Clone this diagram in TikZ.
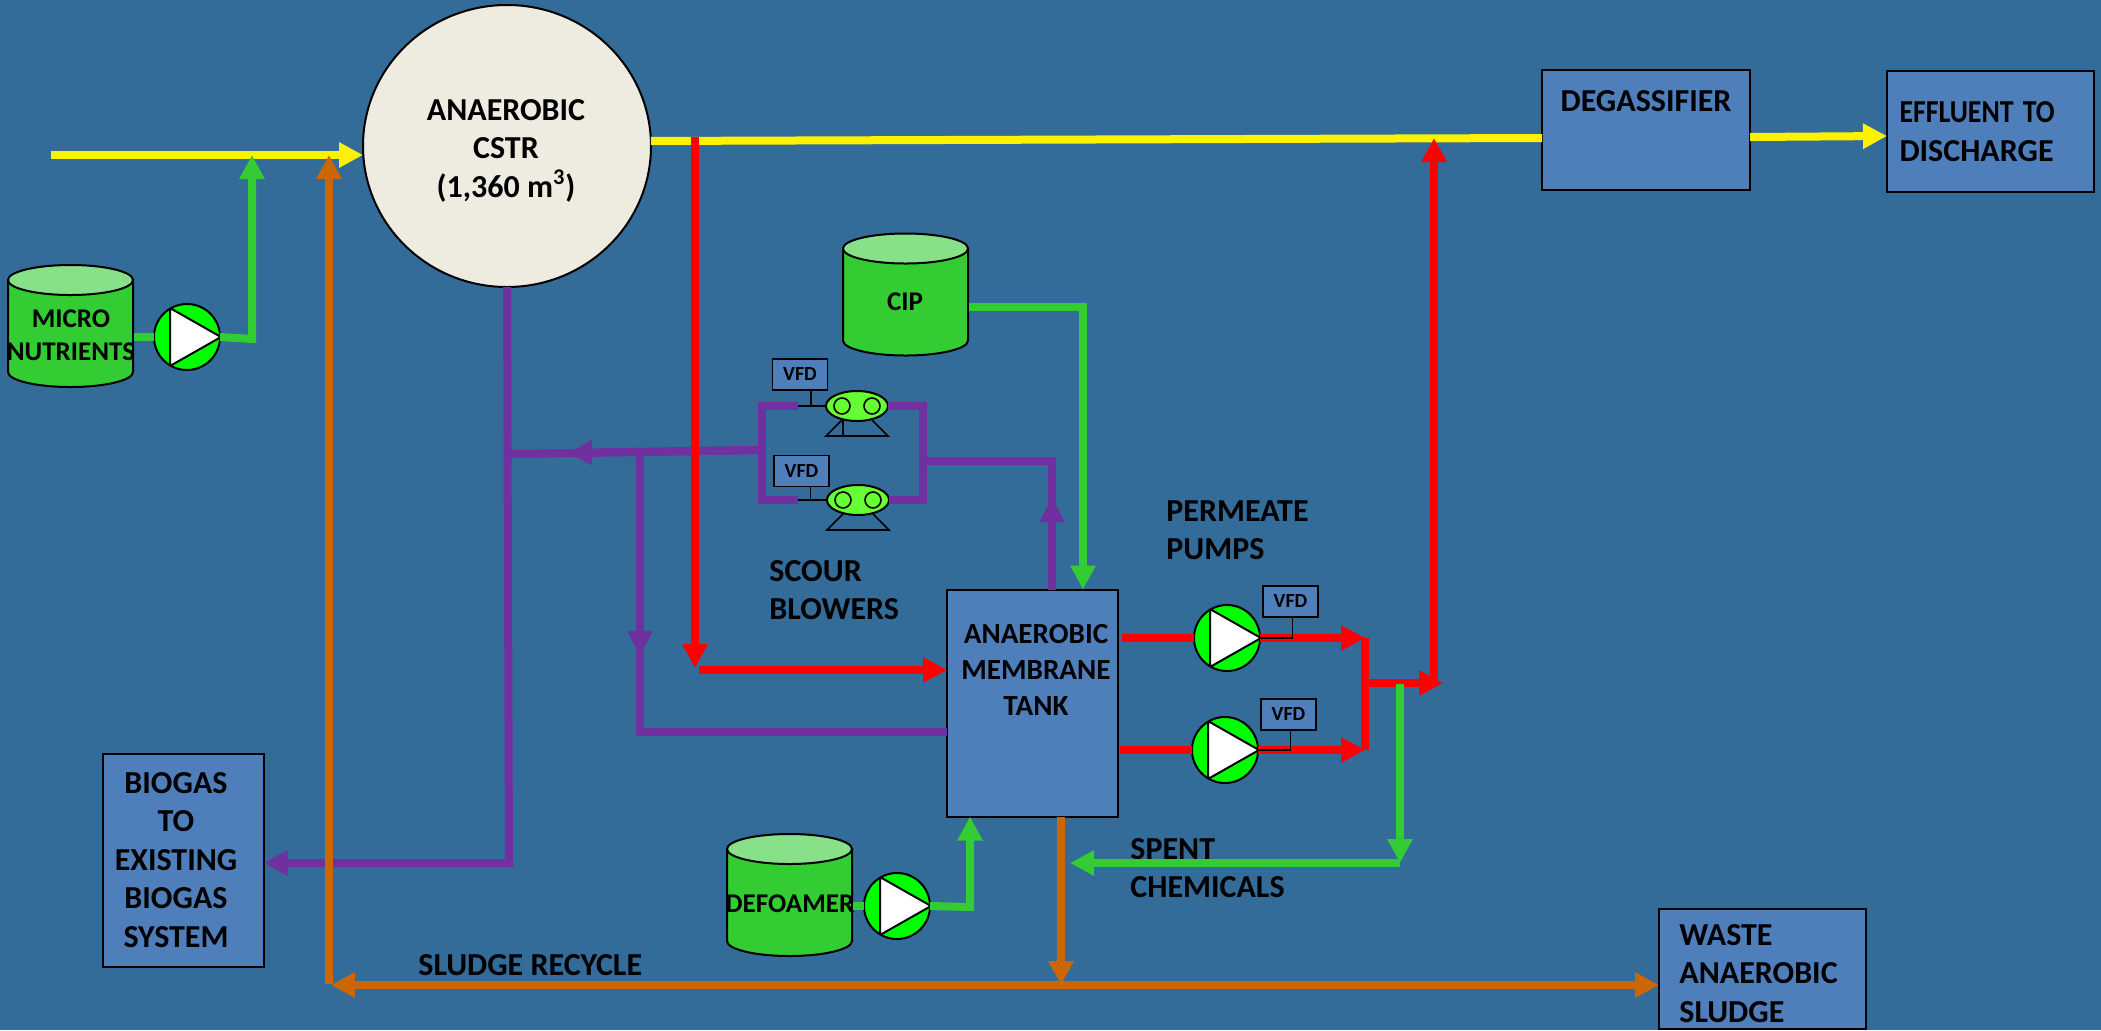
\documentclass[tikz,border=0pt]{standalone}
\usepackage{fontspec}
\usepackage{graphicx}
\setmainfont{Carlito}
\usetikzlibrary{arrows.meta,calc,positioning,shapes.geometric}
\definecolor{seablue}{HTML}{336B99}
\definecolor{boxblue}{HTML}{4F7FBB}
\definecolor{cream}{HTML}{EEECE1}
\definecolor{tankgreen}{HTML}{33CC33}
\definecolor{tanktop}{HTML}{88E088}
\definecolor{pumpgreen}{HTML}{00FF00}
\definecolor{blowgreen}{HTML}{66FF33}
\definecolor{gaspurple}{HTML}{7030A0}
\definecolor{sludge}{HTML}{CC6600}

\begin{document}
\begin{tikzpicture}[x=.5pt, y=-.5pt, >={Triangle[length=12pt,width=12pt]},
 labelfont/.style = {font=\bfseries\fontsize{16}{19.25}\selectfont},
 smallfont/.style = {font=\bfseries\fontsize{13.5}{16.3}\selectfont},
 block/.style = {draw, rectangle, fill=boxblue, line width=1pt, inner sep=0pt, outer sep=0pt, align=center, labelfont},
 vfd/.style = {draw, rectangle, fill=boxblue, line width=.8pt, minimum width=27.5pt, minimum height=15.5pt, inner sep=0pt, font=\bfseries\fontsize{10}{12}\selectfont},
 tank/.style = {rectangle, minimum width=63.5pt, minimum height=62pt, inner sep=0pt, outer sep=0pt,
   path picture={\draw[fill=tankgreen, line width=1pt] (path picture bounding box.center) ++(-62.5,-46) -- ++(0,92) arc (180:0:62.5 and 15) -- ++(0,-92) -- cycle;
     \draw[fill=tanktop, line width=1pt] (path picture bounding box.center) ++(0,-46) ellipse (62.5 and 15);}},
 txt/.style = {inner sep=0pt, align=center, labelfont},
 ltxt/.style = {inner sep=0pt, align=left, anchor=west, labelfont},
 pump/.style = {draw, circle, fill=pumpgreen, line width=1pt, minimum size=33pt, inner sep=0pt, outer sep=0pt,
   path picture={\draw[fill=white, line width=1pt] (path picture bounding box.center) ++(-17,-29) -- ++(0,58) -- ++(51,-29) -- cycle;}},
 blower/.style = {draw, ellipse, fill=blowgreen, line width=1pt, minimum width=31pt, minimum height=15pt, inner sep=0pt, outer sep=0pt,
   path picture={\draw[line width=.8pt] (path picture bounding box.center) ++(-15,0) circle (8) ++(30,0) circle (8);}},
 pipe/.style = {line width=4pt},
 wire/.style = {draw=black, line width=.8pt},
]
    \useasboundingbox (0,0) rectangle (2101,1030);
    \clip (0,0) rectangle (2101,1030);
    \fill[seablue] (0,0) rectangle (2101,1030);

    \node [draw, ellipse, fill=cream, line width=1pt, minimum width=144pt, minimum height=141pt, inner sep=0pt, outer sep=0pt] (cstr) at (507,146) {};
    \node [txt] (cstr_txt) at (506,150.5) {ANAEROBIC\\CSTR\\(1,360 m\textsuperscript{3})};
    \node [block, minimum width=104pt, minimum height=60pt, text depth=29.3pt] (degas)  at (1646,130) {DEGASSIFIER};
    \node [block, minimum width=103.5pt, minimum height=60.5pt, text width=91pt, align=left] (effluent) at (1990.5,131.5) {\scalebox{.87}[1]{EFFLUENT TO}\\DISCHARGE};
    \node [block, minimum width=80.5pt, minimum height=106.5pt] (biogas) at (183,860.5) {};
    \node [txt] (biogas_txt) at (176,860) {BIOGAS\\TO\\EXISTING\\BIOGAS\\SYSTEM};
    \node [block, minimum width=103.5pt, minimum height=60pt] (waste)  at (1762.5,969) {};
    \node [block, minimum width=85.5pt, minimum height=113.5pt] (memtank) at (1032.5,703) {};
    \node [ltxt] (waste_txt) at (1679,973.5) {WASTE\\ANAEROBIC\\SLUDGE};
    \node [txt, font=\bfseries\fontsize{14.6}{18}\selectfont] (memtank_txt) at (1036,670) {ANAEROBIC\\MEMBRANE\\TANK};

    \node [tank] (micro) at (70.5,326) {};
    \node [txt, smallfont] (micro_txt) at (71,335) {MICRO\\NUTRIENTS};
    \node [tank] (cip) at (905.5,294.5) {};
    \node [txt, smallfont] (cip_txt) at (905,302) {CIP};
    \node [tank] (defoamer) at (789.5,895) {};
    \node [txt, smallfont] (defoamer_txt) at (790,904) {DEFOAMER};

    \node [pump] (pump_micro) at (187,337) {};
    \node [pump] (pump_defoam) at (897,906) {};
    \node [pump] (pump_a) at (1227,638) {};
    \node [pump] (pump_b) at (1225,750) {};
    \node [vfd] (vfd_c) at (1290.5,601.5) {VFD};
    \node [vfd] (vfd_d) at (1288.5,714.5) {VFD};

    \node [blower] (blower_a) at (857,406) {};
    \node [blower] (blower_b) at (858,500) {};
    \node [vfd] (vfd_a) at (800,374.5) {VFD};
    \node [vfd] (vfd_b) at (801.5,471) {VFD};

    \node [ltxt] (permeate) at (1166,530) {PERMEATE\\PUMPS};
    \node [ltxt] (scour) at (769,590) {SCOUR\\BLOWERS};
    \node [ltxt] (spent) at (1130,868) {SPENT\\CHEMICALS};
    \node [ltxt] (recycle) at (418,965) {SLUDGE RECYCLE};

%% free ends
    \coordinate (feed_in) at (51,155);
    \coordinate (nutr_up) at (252,339);
    \coordinate (out_end) at (1542,138);
    \coordinate (red_top) at (695,137);
    \coordinate (red_low) at (695,668);
    \coordinate (red_in) at (699,670);
    \coordinate (bus_r) at (1365,683);
    \coordinate (red_up) at (1434,683);
    \coordinate (red_tip) at (1434,138);
    \coordinate (gas_low) at (509,863);
    \coordinate (bus_w) at (762,450);
    \coordinate (hdr_tip) at (568,453);
    \coordinate (hdr_end) at (509,454);
    \coordinate (drop_top) at (640,451);
    \coordinate (drop_tip) at (640,655);
    \coordinate (drop_low) at (640,732);
    \coordinate (air_a) at (798,406);
    \coordinate (air_b) at (798,500);
    \coordinate (bus_e) at (923,461);
    \coordinate (lift_tip) at (1052,498);
    \coordinate (lift_top) at (1052,461);
    \coordinate (spent_top) at (1400,684);
    \coordinate (spent_low) at (1400,863);
    \coordinate (spent_tip) at (1070,863);
    \coordinate (cip_low) at (1083,307);
    \coordinate (defoam_up) at (970,907);
    \coordinate (sludge_w) at (329,984);
    \coordinate (sludge_tip) at (329,155);
    \coordinate (sludge_mid) at (1061,985);

%% paths
    \draw[pipe, gaspurple, ->] (cstr.south) -- (gas_low) -- (gas_low -| biogas.east);
    \draw[pipe, gaspurple] (bus_w) -- (hdr_end);
    \draw[pipe, gaspurple, ->] (bus_w) -- (hdr_tip);
    \draw[pipe, gaspurple] (drop_top) -- (drop_low) -- (drop_low -| memtank.west);
    \draw[pipe, gaspurple, ->] (drop_top) -- (drop_tip);
    \draw[pipe, gaspurple] (air_a) -- (air_a -| bus_w) -- (air_b -| bus_w) -- (air_b);
    \draw[pipe, gaspurple] (blower_a.east) -- (blower_a.east -| bus_e) -- (blower_b.east -| bus_e) -- (blower_b.east);
    \draw[pipe, gaspurple] (memtank.north -| lift_top) -- (lift_top) -- (bus_e);
    \draw[pipe, gaspurple, ->] (memtank.north -| lift_tip) -- (lift_tip);

    \draw[pipe, yellow, ->] (feed_in) -- (cstr.west |- feed_in);
    \draw[pipe, yellow] (cstr.2) -- (out_end);
    \draw[pipe, yellow, ->] (degas.east) ++(0,7) -- (effluent.west |- 0,136);

    \draw[pipe, red, ->] (red_top) -- (red_low);
    \draw[pipe, red, ->] (red_in) -- (red_in -| memtank.west);
    \draw[pipe, red] (pump_a.west -| memtank.east) ++(4,0) -- (pump_a.west);
    \draw[pipe, red] (pump_b.west -| memtank.east) ++(2,0) -- (pump_b.west);
    \draw[pipe, red, ->] (pump_a.east) -- (pump_a.east -| bus_r);
    \draw[pipe, red, ->] (pump_b.east) -- (pump_b.east -| bus_r);
    \draw[pipe, red] (pump_a.east -| bus_r) -- (pump_b.east -| bus_r);
    \draw[pipe, red, ->] (bus_r) -- ++(78,0);
    \draw[pipe, red, ->] (red_up) -- (red_tip);

    \draw[pipe, tankgreen] (micro.east |- pump_micro) -- (pump_micro.west);
    \draw[pipe, tankgreen, ->] (pump_micro.east) -- (nutr_up) -- (nutr_up |- feed_in);
    \draw[pipe, tankgreen, ->] (cip.east |- cip_low) -- (cip_low) -- (memtank.north -| cip_low);
    \draw[pipe, tankgreen] (defoamer.east |- pump_defoam) -- (pump_defoam.west);
    \draw[pipe, tankgreen, ->] (pump_defoam.east) -- (defoam_up) -- (memtank.south -| defoam_up);
    \draw[pipe, tankgreen, ->] (spent_top) -- (spent_low);
    \draw[pipe, tankgreen, ->] (spent_low) -- (spent_tip);

    \draw[pipe, sludge, ->] (memtank.south -| sludge_mid) -- (sludge_mid);
    \draw[pipe, sludge, <->] (sludge_mid -| waste.west) -- ([xshift=1pt]sludge_mid -| sludge_w);
    \draw[pipe, sludge, ->] (sludge_w) -- (sludge_tip);

    \draw[wire] (air_a) -- (blower_a.west);
    \draw[wire] (air_b) -- (blower_b.west);
    \draw[wire] ($(vfd_a.south)+(11,0)$) -- ++(0,16);
    \draw[wire] ($(vfd_b.south)+(9,0)$) -- ++(0,14);
    \draw[wire] ($(vfd_c.south)+(2,0)$) |- (pump_a.east);
    \draw[wire] ($(vfd_d.south)+(2,0)$) |- (pump_b.east);
    \foreach \b in {blower_a,blower_b}
        \draw[wire] ($(\b)+(-15,14)$) -- ++(-16,16) -- ++(62,0) -- ++(-16,-16);
    \draw[wire] ($(blower_a)+(-14,14)$) -- ++(0,16);
\end{tikzpicture}
\end{document}
